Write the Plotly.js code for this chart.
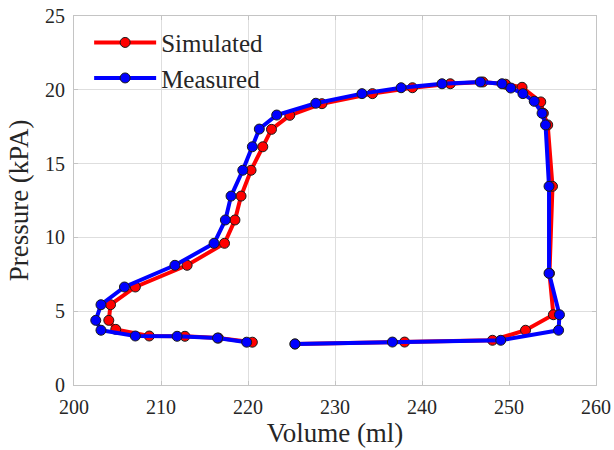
<!DOCTYPE html>
<html>
<head>
<meta charset="utf-8">
<script src="https://cdn.plot.ly/plotly-3.0.1.min.js"></script>
<style>html,body{margin:0;padding:0;background:#fff}#chart{width:614px;height:450px}</style>
</head>
<body>
<div id="chart"></div>
<script>
// Simulated (red) loop
const simVolume = [225.4, 238.0, 248.1, 251.9, 255.1, 254.65, 255.0, 254.45, 253.95, 253.65, 251.5, 249.6, 247.0, 243.25, 238.9, 234.3, 228.5, 224.8, 222.7, 221.7, 220.35, 219.2, 218.5, 217.3, 213.0, 207.05, 204.2, 204.0, 204.8, 208.65, 212.75, 216.6, 220.5];
const simPressure = [2.78, 2.91, 3.03, 3.71, 4.76, 7.57, 13.46, 17.62, 18.41, 19.18, 20.17, 20.38, 20.53, 20.41, 20.14, 19.74, 19.06, 18.27, 17.32, 16.14, 14.55, 12.8, 11.18, 9.6, 8.11, 6.64, 5.44, 4.38, 3.77, 3.32, 3.30, 3.18, 2.90];
// Measured (blue) loop
const measVolume = [225.4, 236.6, 249.05, 255.7, 255.8, 254.6, 254.6, 254.2, 253.8, 252.9, 251.6, 250.2, 249.2, 246.7, 242.3, 237.6, 233.1, 227.8, 223.3, 221.3, 220.5, 219.4, 218.05, 217.4, 216.1, 211.6, 205.8, 203.1, 202.5, 203.1, 207.05, 211.85, 216.5, 219.85];
const measPressure = [2.78, 2.91, 3.03, 3.71, 4.76, 7.57, 13.46, 17.62, 18.41, 19.22, 19.74, 20.12, 20.41, 20.53, 20.41, 20.14, 19.74, 19.09, 18.29, 17.34, 16.14, 14.55, 12.8, 11.18, 9.6, 8.11, 6.64, 5.44, 4.38, 3.71, 3.32, 3.30, 3.18, 2.90];
const seriesNames = ["Simulated", "Measured"];
const xTicks = [200, 210, 220, 230, 240, 250, 260];
const yTicks = [0, 5, 10, 15, 20, 25];

const FONT = "Liberation Serif, Times New Roman, serif";
const TXT = "#262626";

const traces = [
  {x: simVolume, y: simPressure, name: seriesNames[0], mode: "lines+markers", type: "scatter",
   line: {color: "#ff0000", width: 4},
   marker: {color: "#ff0000", size: 10, line: {color: "#1a1a1a", width: 1}}},
  {x: measVolume, y: measPressure, name: seriesNames[1], mode: "lines+markers", type: "scatter",
   line: {color: "#0000ff", width: 4},
   marker: {color: "#0000ff", size: 10, line: {color: "#1a1a1a", width: 1}}}
];

const axisCommon = {
  showgrid: true, gridcolor: "#dedede", gridwidth: 1,
  showline: true, linecolor: "#c4c4c4", linewidth: 1, mirror: "ticks",
  ticks: "inside", ticklen: 4, tickcolor: "#c4c4c4",
  zeroline: false,
  tickfont: {family: FONT, size: 20, color: TXT}
};

const layout = {
  width: 614, height: 450,
  margin: {l: 74, r: 18, t: 16, b: 65},
  paper_bgcolor: "#ffffff", plot_bgcolor: "#ffffff",
  showlegend: true,
  legend: {x: 0.029, y: 0.99, xanchor: "left", yanchor: "top",
           bgcolor: "rgba(255,255,255,0)", borderwidth: 0,
           font: {family: FONT, size: 25, color: TXT}, itemwidth: 62, tracegroupgap: 0},
  xaxis: Object.assign({}, axisCommon, {
    range: [200, 260], tickvals: xTicks, ticktext: xTicks.map(String), ticklabelstandoff: 4,
    title: {text: "Volume (ml)", font: {family: FONT, size: 27, color: TXT}, standoff: 3}
  }),
  yaxis: Object.assign({}, axisCommon, {
    range: [0, 25], tickvals: yTicks, ticktext: yTicks.map(String), ticklabelstandoff: 4,
    title: {text: "Pressure (kPA)", font: {family: FONT, size: 27, color: TXT}, standoff: 8}
  })
};

Plotly.newPlot("chart", traces, layout, {displayModeBar: false, staticPlot: true});
</script>
</body>
</html>
